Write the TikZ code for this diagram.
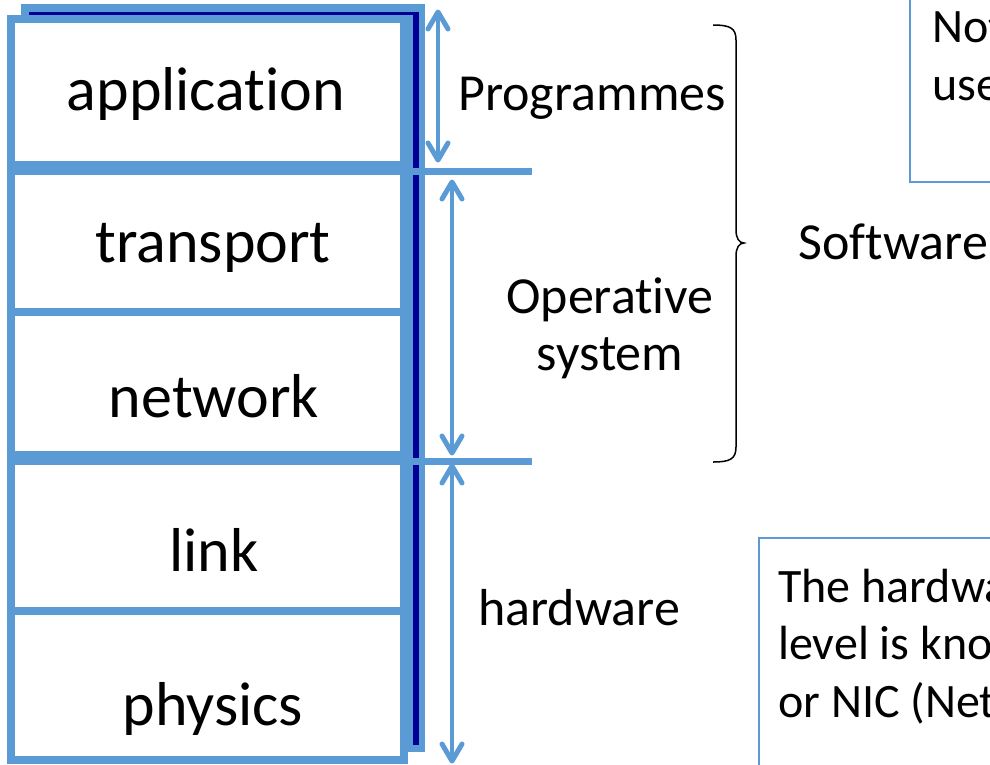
\documentclass[tikz,border=0pt]{standalone}
\usepackage{fontspec}
\setmainfont{Carlito}[Ligatures=NoCommon]
\usetikzlibrary{calc}
\definecolor{lblue}{RGB}{91,155,213}
\definecolor{dblue}{RGB}{0,0,150}
\begin{document}
\begin{tikzpicture}[x=1pt, y=-1pt,
  layer/.style={rectangle, draw=lblue, fill=white, line width=7.5pt, outer sep=0pt,
    inner sep=0pt, minimum width=393pt, minimum height=#1, anchor=north west},
  layertext/.style={anchor=base, font=\fontsize{62}{70}\selectfont},
  sidetext/.style={anchor=base, align=center, font=\fontsize{52}{57}\selectfont},
  notetext/.style={anchor=base west, align=left, inner sep=0pt, font=\fontsize{48}{57.5}\selectfont},
  notebox/.style={draw=lblue, line width=1.5pt},
  sepline/.style={draw=lblue, line width=7pt},
  spanarrow/.style={draw=lblue, line width=4.5pt},
  arrowhead/.style={draw=lblue, line width=5pt, line cap=round, line join=round}
]
\useasboundingbox (0,0) rectangle (990,764);
\clip (0,0) rectangle (990,764);
\fill[lblue] (21,4) rectangle (425,752);
\draw[dblue, line width=3.5pt] (29,13.5) -- (417,13.5);
\draw[dblue, line width=6pt] (416,12) -- (416,745);
\node[layer=146pt] (app) at (11,19) {};
\node[layer=141pt] (trans) at (11,171) {};
\node[layer=143pt] (net) at (11,312) {};
\node[layer=150pt] (link) at (11,461) {};
\node[layer=149pt] (phys) at (11,611) {};
\coordinate (sepA) at (532,171);
\coordinate (sepB) at (532,461);
\draw[sepline] (7,171) -- (sepA);
\draw[sepline] (7,461) -- (sepB);
\node[layertext] (tapp) at (206,110) {application};
\node[layertext] (ttrans) at (213,262) {transport};
\node[layertext] (tnet) at (214,417) {network};
\node[layertext] (tlink) at (214,571) {link};
\node[layertext] (tphys) at (213,725) {physics};
\coordinate (progtop) at (438,12);
\coordinate (progbot) at (438,160);
\coordinate (ostop) at (452,182);
\coordinate (osbot) at (452,453);
\coordinate (hwtop) at (452,466);
\coordinate (hwbot) at (452,761);
\draw[spanarrow] (progtop) -- (progbot);
\draw[spanarrow] (ostop) -- (osbot);
\draw[spanarrow] (hwtop) -- (hwbot);
\foreach \t/\d in {progtop/1, ostop/1, hwtop/1, progbot/-1, osbot/-1, hwbot/-1}
  \draw[arrowhead] ($(\t)+(-10,17*\d)$) -- (\t) -- ($(\t)+(10,17*\d)$);
\node[sidetext] (prog) at (592,110) {Programmes};
\node[sidetext] (opsys) at (610,370) {Operative\\system};
\node[sidetext] (hw) at (579,625) {hardware};
\draw[line width=1.5pt] (713,25) .. controls (730,25) and (736,28) .. (736,40) -- (736,230)
  .. controls (736,238) and (739,243) .. (744,243) .. controls (739,243) and (736,248) .. (736,256)
  -- (736,447) .. controls (736,459) and (730,462) .. (713,462);
\node[anchor=base west, font=\fontsize{52}{57}\selectfont] (soft) at (795,259) {Software};
\draw[notebox] (910,-10) rectangle (1010,182);
\node[notetext] (note) at (932,100) {Not\\use};
\draw[notebox] (759,538) rectangle (1010,780);
\node[notetext] (nic) at (778,717) {The hardwa\\level is kno\\or NIC (Net};
\end{tikzpicture}
\end{document}
